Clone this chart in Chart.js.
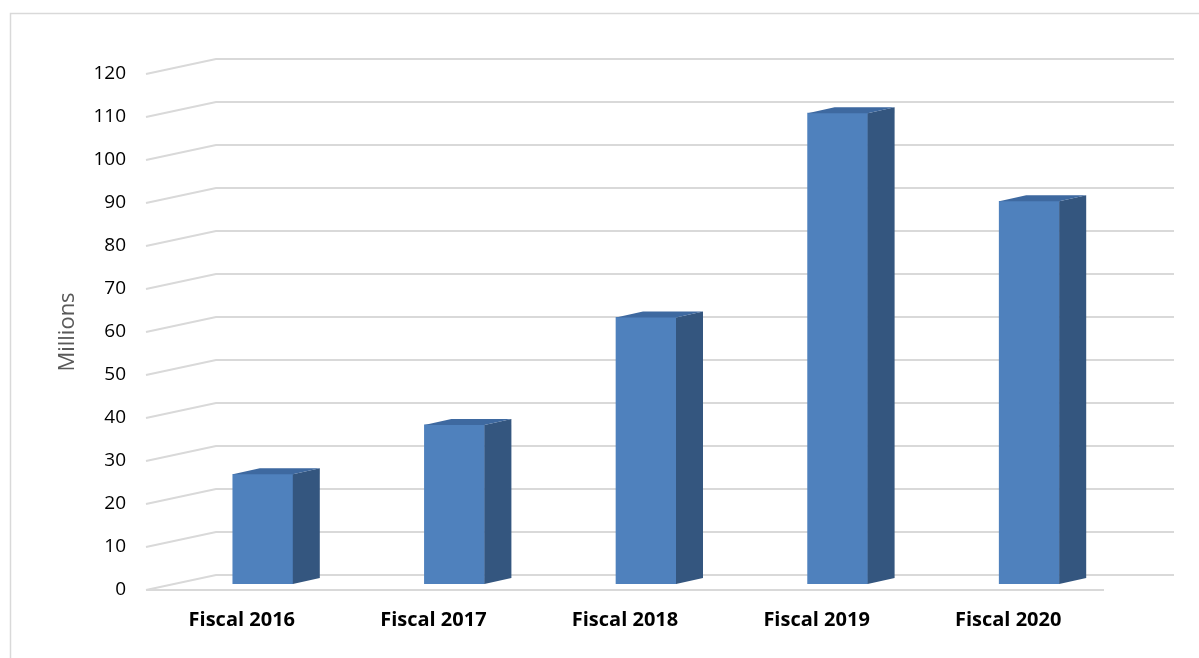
<!DOCTYPE html>
<html>
<head>
<meta charset="utf-8">
<script src="https://cdn.jsdelivr.net/npm/chart.js@4.4.1/dist/chart.umd.min.js"></script>
<style>
	html, body { margin: 0; padding: 0; background: #fff; }
	#wrap { position: relative; width: 1199px; height: 658px; }
</style>
</head>
<body>
<div id="wrap"><canvas id="barcanvas" width="1199" height="658"></canvas></div>
<script>
// data
var categories = ['Fiscal 2016', 'Fiscal 2017', 'Fiscal 2018', 'Fiscal 2019', 'Fiscal 2020'];
var amounts = [25.5, 37, 62, 109.5, 89];
var yMin = 0;
var yMax = 120;
var yStep = 10;

// 3d look: back wall offset, bar offset into the box, bar depth
var WALL_DX = 70, WALL_DY = -15;
var BAR_DX = 21, BAR_DY = -6;
var SIDE_DX = 27, SIDE_DY = -6;

var threeD = {
	id: 'threeD',
	beforeDraw: function(chart) {
		var ctx = chart.ctx;
		var area = chart.chartArea;
		var y = chart.scales.y;
		ctx.save();
		// outer frame
		ctx.strokeStyle = '#d9d9d9';
		ctx.lineWidth = 1.5;
		ctx.strokeRect(10.5, 13.5, 1300, 800);
		// perspective gridlines
		ctx.lineWidth = 2;
		ctx.strokeStyle = '#d9d9d9';
		for (var v = yMin; v <= yMax; v += yStep) {
			var py = y.getPixelForValue(v);
			ctx.beginPath();
			ctx.moveTo(area.left, py);
			ctx.lineTo(area.left + WALL_DX, py + WALL_DY);
			ctx.lineTo(area.right + WALL_DX, py + WALL_DY);
			ctx.stroke();
		}
		// front floor edge
		var p0 = y.getPixelForValue(0);
		ctx.beginPath();
		ctx.moveTo(area.left, p0);
		ctx.lineTo(area.right, p0);
		ctx.stroke();
		ctx.restore();
	},
	beforeDatasetsDraw: function(chart) {
		chart.ctx.save();
		chart.ctx.translate(BAR_DX, BAR_DY);
	},
	afterDatasetsDraw: function(chart) {
		var ctx = chart.ctx;
		var meta = chart.getDatasetMeta(0);
		meta.data.forEach(function(bar) {
			var l = bar.x - bar.width / 2;
			var r = bar.x + bar.width / 2;
			// side face
			ctx.fillStyle = '#34567f';
			ctx.beginPath();
			ctx.moveTo(r, bar.y);
			ctx.lineTo(r + SIDE_DX, bar.y + SIDE_DY);
			ctx.lineTo(r + SIDE_DX, bar.base + SIDE_DY);
			ctx.lineTo(r, bar.base);
			ctx.closePath();
			ctx.fill();
			// top face
			ctx.fillStyle = '#3e69a0';
			ctx.beginPath();
			ctx.moveTo(l, bar.y);
			ctx.lineTo(l + SIDE_DX, bar.y + SIDE_DY);
			ctx.lineTo(r + SIDE_DX, bar.y + SIDE_DY);
			ctx.lineTo(r, bar.y);
			ctx.closePath();
			ctx.fill();
		});
		ctx.restore();
	}
};

var ctx = document.getElementById('barcanvas');

var barGraph = new Chart(ctx, {
	type: 'bar',
	data: {
		labels: categories,
		datasets: [{
			label: 'Millions',
			data: amounts,
			backgroundColor: '#4f81bd',
			borderWidth: 0,
			barThickness: 60
		}]
	},
	options: {
		responsive: false,
		animation: false,
		layout: {
			padding: { left: 0, right: 95, top: 74, bottom: 8 }
		},
		plugins: {
			legend: { display: false },
			tooltip: { enabled: false }
		},
		scales: {
			x: {
				grid: { display: false },
				border: { display: false },
				ticks: {
					color: '#000',
					padding: 10,
					font: { family: 'Open Sans', size: 20, weight: 'bold' }
				},
				afterFit: function(scale) { scale.height = 60; }
			},
			y: {
				min: yMin,
				max: yMax,
				grid: { display: false },
				border: { display: false },
				ticks: {
					stepSize: yStep,
					color: '#000',
					padding: 12,
					font: { family: 'Open Sans', size: 19 }
				},
				title: {
					display: true,
					text: 'Millions',
					color: '#595959',
					padding: { top: 55, bottom: 0 },
					font: { family: 'Open Sans', size: 22 }
				},
				afterFit: function(scale) { scale.width = 146; }
			}
		}
	},
	plugins: [threeD]
});
</script>
</body>
</html>
